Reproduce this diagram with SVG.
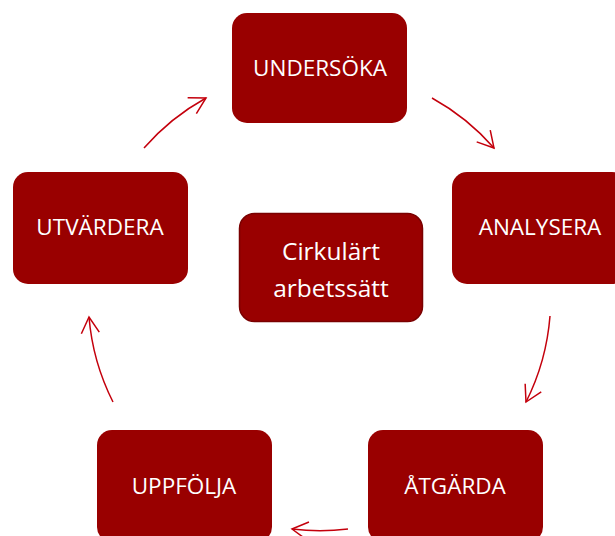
<svg xmlns="http://www.w3.org/2000/svg" width="615" height="536" viewBox="0 0 615 536">
  <style>
    .box { fill: #990000; }
    .center { fill: #990000; stroke: #7a0000; stroke-width: 1.5; }
    .lbl { font-family: "Open Sans", "Liberation Sans", sans-serif; font-size: 22.5px; fill: #ffffff; text-anchor: middle; }
    .clbl { font-family: "Open Sans", "Liberation Sans", sans-serif; font-size: 24.5px; fill: #ffffff; text-anchor: middle; }
    .arc { fill: none; stroke: #c4000c; stroke-width: 1.5; marker-end: url(#head); }
  </style>
  <defs>
    <marker id="head" markerUnits="userSpaceOnUse" markerWidth="40" markerHeight="40" refX="0" refY="0" viewBox="-20 -20 40 40" orient="auto">
      <path d="M-16,-9 L0,0 L-16,9" fill="none" stroke="#c4000c" stroke-width="1.5"/>
    </marker>
  </defs>
  <rect width="615" height="536" fill="#ffffff"/>
  <g id="connectors">
    <path class="arc" d="M432,98 A231,231 0 0 1 494,148"/>
    <path class="arc" d="M550,316 A231,231 0 0 1 526,402"/>
    <path class="arc" d="M348,529 A231,231 0 0 1 292,529"/>
    <path class="arc" d="M113,402 A231,231 0 0 1 89,317"/>
    <path class="arc" d="M144,148 A231,231 0 0 1 206,98"/>
  </g>
  <g id="undersoka">
    <rect class="box" x="232" y="13" width="175" height="110" rx="15"/>
    <text class="lbl" x="320" y="76">UNDERSÖKA</text>
  </g>
  <g id="analysera">
    <rect class="box" x="452" y="172" width="175" height="112" rx="15"/>
    <text class="lbl" x="540" y="235">ANALYSERA</text>
  </g>
  <g id="atgarda">
    <rect class="box" x="368" y="430" width="175" height="112" rx="15"/>
    <text class="lbl" x="455" y="494">ÅTGÄRDA</text>
  </g>
  <g id="uppfolja">
    <rect class="box" x="97" y="430" width="175" height="112" rx="15"/>
    <text class="lbl" x="184" y="494">UPPFÖLJA</text>
  </g>
  <g id="utvardera">
    <rect class="box" x="13" y="172" width="175" height="112" rx="15"/>
    <text class="lbl" x="100" y="235">UTVÄRDERA</text>
  </g>
  <g id="cirkulart">
    <rect class="center" x="239.5" y="213.5" width="183" height="108" rx="15"/>
    <text class="clbl" x="331" y="260">Cirkulärt</text>
    <text class="clbl" x="331" y="297">arbetssätt</text>
  </g>
</svg>
